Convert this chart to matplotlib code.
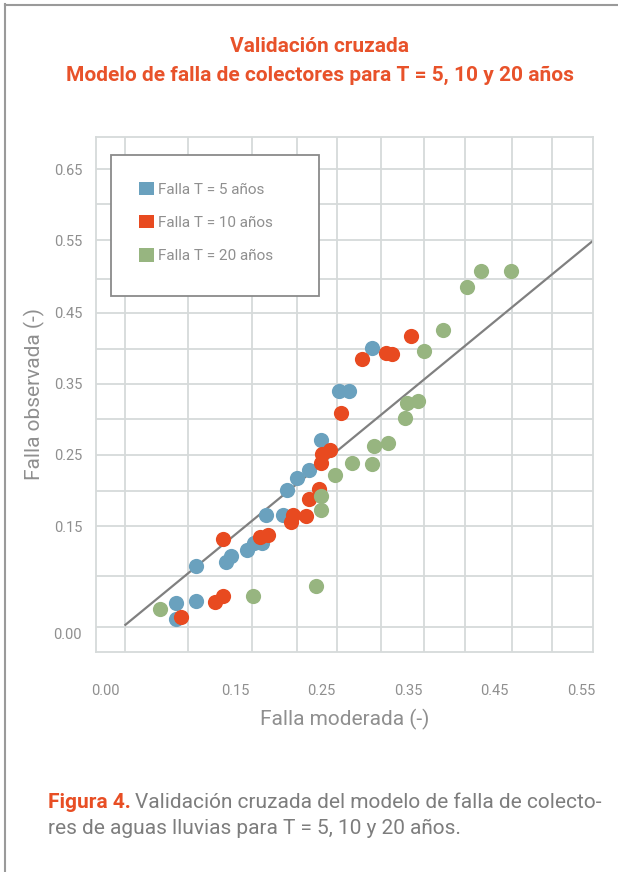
import matplotlib
matplotlib.use("Agg")
import matplotlib.pyplot as plt
from matplotlib.patches import Patch, Rectangle
from matplotlib.lines import Line2D

plt.rcParams['font.family'] = ['Roboto', 'DejaVu Sans']

# datos (falla moderada, falla observada)
x_t5 = [0.081, 0.081, 0.105, 0.105, 0.139, 0.145, 0.164, 0.172, 0.181, 0.186,
        0.205, 0.210, 0.221, 0.235, 0.249, 0.270, 0.282, 0.308]
y_t5 = [0.020, 0.043, 0.045, 0.094, 0.100, 0.109, 0.117, 0.126, 0.127, 0.166,
        0.166, 0.201, 0.218, 0.229, 0.271, 0.339, 0.339, 0.400]

x_t10 = [0.087, 0.127, 0.136, 0.136, 0.179, 0.188, 0.215, 0.217, 0.232, 0.235,
         0.247, 0.249, 0.251, 0.260, 0.273, 0.297, 0.325, 0.332, 0.353]
y_t10 = [0.023, 0.044, 0.053, 0.132, 0.135, 0.138, 0.156, 0.166, 0.164, 0.188,
         0.202, 0.239, 0.251, 0.257, 0.309, 0.385, 0.393, 0.391, 0.416]

x_t20 = [0.063, 0.171, 0.243, 0.249, 0.249, 0.265, 0.285, 0.308, 0.311, 0.327,
         0.346, 0.349, 0.361, 0.369, 0.391, 0.418, 0.434, 0.469]
y_t20 = [0.034, 0.053, 0.067, 0.173, 0.193, 0.222, 0.239, 0.237, 0.263, 0.266,
         0.301, 0.322, 0.326, 0.396, 0.425, 0.485, 0.507, 0.507]

# recta 1:1
line_x = [0.023, 0.564]
line_y = [0.012, 0.550]

labels = ['Falla T = 5 años', 'Falla T = 10 años', 'Falla T = 20 años']
colors = ['#6aa1be', '#e84a20', '#97b580']

xticks = [0.00, 0.15, 0.25, 0.35, 0.45, 0.55]
yticks = [0.00, 0.15, 0.25, 0.35, 0.45, 0.55, 0.65]
xgrid = [0.022, 0.095, 0.170, 0.221, 0.268, 0.319, 0.368, 0.416, 0.470, 0.517]
ygrid = [0.0085, 0.080, 0.150, 0.200, 0.250, 0.300, 0.349, 0.398, 0.449,
         0.497, 0.551, 0.601, 0.650]

gray_txt = '#8f8f8f'
orange = '#e8522a'
grid_c = '#d6dada'

fig = plt.figure(figsize=(6.18, 8.72), dpi=100)
ax = fig.add_axes([96/618, 1 - 652.3/872, 497/618, 515.6/872])

for g in xgrid:
    ax.axvline(g, color=grid_c, lw=1.3, zorder=0)
for g in ygrid:
    ax.axhline(g, color=grid_c, lw=1.3, zorder=0)
for s in ax.spines.values():
    s.set_color(grid_c)
    s.set_linewidth(1.3)

ax.plot(line_x, line_y, color='#808080', lw=1.6, zorder=2)
ax.scatter(x_t5, y_t5, s=120, color=colors[0], lw=0, zorder=3)
ax.scatter(x_t10, y_t10, s=120, color=colors[1], lw=0, zorder=3)
ax.scatter(x_t20, y_t20, s=120, color=colors[2], lw=0, zorder=3)

ax.set_xlim(-0.011, 0.564)
ax.set_ylim(-0.0265, 0.6957)
ax.set_xticks(xticks)
ax.set_xticklabels([f'{v:.2f}' for v in xticks])
ax.set_yticks(yticks)
ax.set_yticklabels([f'{v:.2f}' for v in yticks])
ax.tick_params(axis='x', length=0, pad=23, labelsize=10.5, labelcolor=gray_txt)
ax.tick_params(axis='y', length=0, pad=10, labelsize=10.5, labelcolor=gray_txt)

ax.set_xlabel('Falla moderada (-)', fontsize=15, color=gray_txt, labelpad=8)
ax.set_ylabel('Falla observada (-)', fontsize=15, color=gray_txt, labelpad=6)

# caja de leyenda
box = Rectangle((111.3, 872 - 295.7), 207.4, 140.7, transform=None,
                facecolor='white', edgecolor='#8a8a8a', lw=1.3, zorder=5)
fig.patches.append(box)
handles = [Patch(facecolor=c, edgecolor='none') for c in colors]
leg = fig.legend(handles, labels, loc='upper left',
                 bbox_to_anchor=(139/618, 1 - 182/872), frameon=False,
                 fontsize=11, labelcolor=gray_txt, handlelength=0.95,
                 handleheight=0.95, handletextpad=0.3, labelspacing=1.2,
                 borderpad=0, borderaxespad=0)
leg.set_zorder(6)

fig.text(0.517, 1 - 47/872, 'Validación cruzada', ha='center', va='center',
         fontsize=15, fontweight='bold', color=orange)
fig.text(0.517, 1 - 75/872, 'Modelo de falla de colectores para T = 5, 10 y 20 años',
         ha='center', va='center', fontsize=15, fontweight='bold', color=orange)

# pie de figura
fig.canvas.draw()
t1 = fig.text(48/618, 1 - 802/872, 'Figura 4.', ha='left', va='center',
              fontsize=15, fontweight='bold', color='#e84e24')
fig.canvas.draw()
bb = t1.get_window_extent()
fig.text((bb.x1 + 4)/618, 1 - 802/872,
         'Validación cruzada del modelo de falla de colecto-',
         ha='left', va='center', fontsize=15, color='#7d7d7d')
fig.text(48/618, 1 - 828/872, 'res de aguas lluvias para T = 5, 10 y 20 años.',
         ha='left', va='center', fontsize=15, color='#7d7d7d')

# borde
fig.lines.append(Line2D([4.5, 4.5], [0, 868], transform=None, color='#9a9a9a', lw=1.5))
fig.lines.append(Line2D([4.5, 618], [867.5, 867.5], transform=None, color='#9a9a9a', lw=1.5))

fig.savefig('out.png', dpi=100)
